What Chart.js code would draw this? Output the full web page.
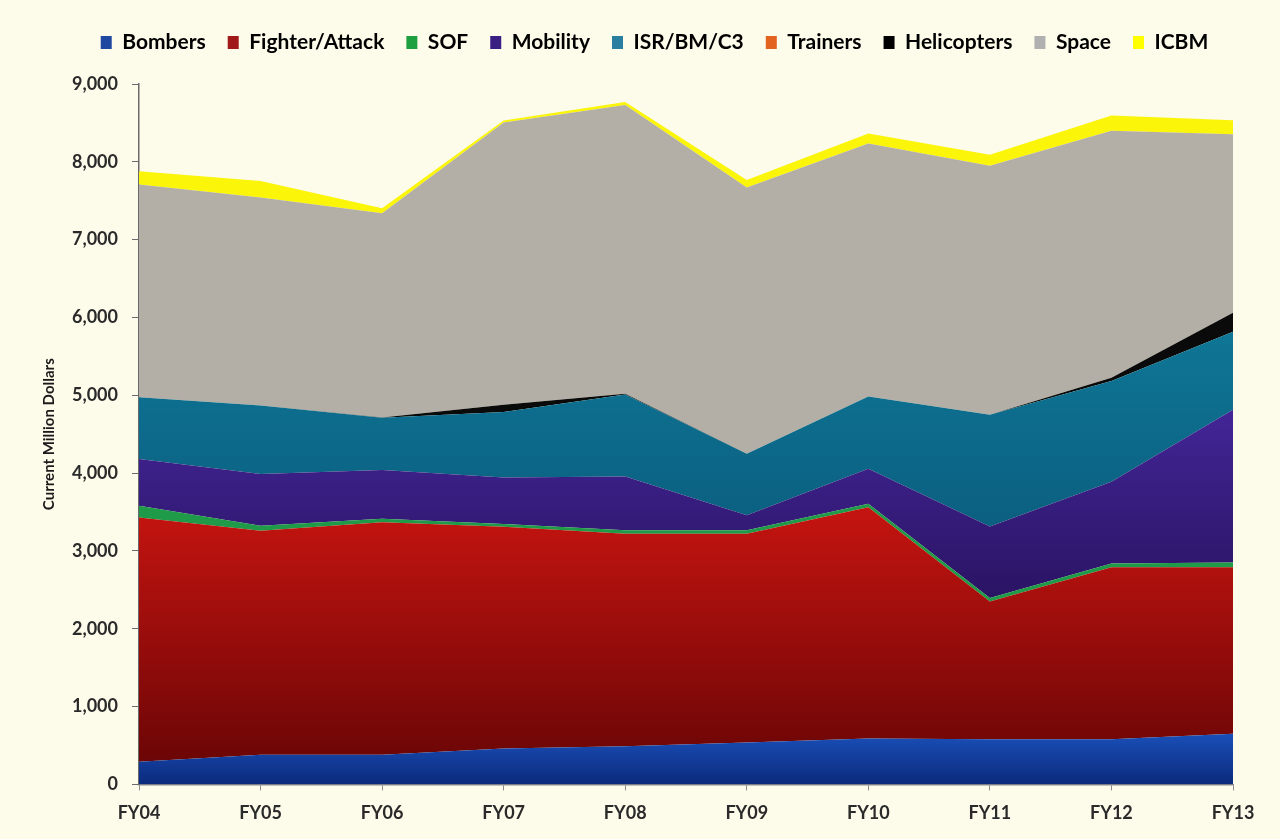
<!DOCTYPE html>
<html>
<head>
<meta charset="utf-8">
<script src="https://cdn.jsdelivr.net/npm/chart.js@4.4.1/dist/chart.umd.min.js"></script>
<style>
  html, body { margin: 0; padding: 0; background: #fdfbea; }
  #wrap { width: 1280px; height: 839px; }
</style>
</head>
<body>
<div id="wrap"><canvas id="budgetChart" width="1280" height="839"></canvas></div>
<script>
// procurement + RDT&E by mission area, current million dollars
const years = ["FY04", "FY05", "FY06", "FY07", "FY08", "FY09", "FY10", "FY11", "FY12", "FY13"];

const bombers     = [290, 380, 380, 460, 490, 540, 590, 580, 580, 650];
const fighter     = [3140, 2880, 2990, 2850, 2730, 2680, 2970, 1770, 2210, 2140];
const sof         = [150, 65, 45, 35, 45, 45, 45, 45, 50, 60];
const mobility    = [600, 665, 625, 600, 690, 195, 450, 920, 1050, 1965];
const isr         = [795, 880, 670, 840, 1055, 790, 930, 1435, 1295, 1000];
const trainers    = [0, 0, 0, 0, 0, 0, 0, 0, 0, 0];
const helicopters = [0, 0, 5, 95, 10, 0, 0, 0, 40, 245];
const space       = [2735, 2670, 2625, 3625, 3710, 3420, 3250, 3200, 3175, 2295];
const icbm        = [170, 215, 65, 25, 40, 95, 130, 140, 195, 180];

const yTicks = [0, 1000, 2000, 3000, 4000, 5000, 6000, 7000, 8000, 9000];

const FONT = "Lato, 'Open Sans', sans-serif";

// vertical gradient pinned to y-axis values so every band shades the same way
function shade(fromVal, toVal, topColor, bottomColor) {
  return (ctx) => {
    const chart = ctx.chart;
    if (!chart.chartArea) return topColor;
    const y = chart.scales.y;
    const g = chart.ctx.createLinearGradient(0, y.getPixelForValue(fromVal), 0, y.getPixelForValue(toVal));
    g.addColorStop(0, topColor);
    g.addColorStop(1, bottomColor);
    return g;
  };
}

const series = [
  { label: "Bombers", data: bombers, fill: shade(650, 0, "#1a4fb8", "#0b2a7c"), key: "#2048a0" },
  { label: "Fighter/Attack", data: fighter, fill: shade(3500, 300, "#c41410", "#6c0606"), key: "#a01818" },
  { label: "SOF", data: sof, fill: "#1f9a48", key: "#1fa040" },
  { label: "Mobility", data: mobility, fill: shade(4800, 2400, "#432596", "#2a1464"), key: "#3a2082" },
  { label: "ISR/BM/C3", data: isr, fill: shade(5800, 3300, "#0f7696", "#0b5f80"), key: "#2a7ea0" },
  { label: "Trainers", data: trainers, fill: "#e2621e", key: "#e2621e" },
  { label: "Helicopters", data: helicopters, fill: "#0a0a0a", key: "#000000" },
  { label: "Space", data: space, fill: "#b3afa7", key: "#b0b0b0" },
  { label: "ICBM", data: icbm, fill: "#fbf50a", key: "#ffff00" }
];

const paperBg = {
  id: "paperBg",
  beforeDraw(chart) {
    const c = chart.ctx;
    c.save();
    c.fillStyle = "#fdfbea";
    c.fillRect(0, 0, chart.width, chart.height);
    c.restore();
  }
};

// extra room under the legend, and nudge it right of the y-axis title block
const legendSpacing = {
  id: "legendSpacing",
  beforeInit(chart) {
    const fit = chart.legend.fit;
    chart.legend.fit = function () {
      fit.call(this);
      this.height += 21;
    };
  },
  afterLayout(chart) {
    chart.legend.left += 20;
    chart.legend.right += 20;
  }
};

new Chart(document.getElementById("budgetChart"), {
  type: "line",
  data: {
    labels: years,
    datasets: series.map((s, i) => ({
      label: s.label,
      data: s.data,
      backgroundColor: s.fill,
      borderColor: "rgba(0,0,0,0)",
      borderWidth: 0,
      pointRadius: 0,
      tension: 0,
      fill: i === 0 ? "origin" : "-1",
      legendColor: s.key
    }))
  },
  options: {
    responsive: false,
    animation: false,
    devicePixelRatio: 1,
    layout: { padding: { top: 10, right: 47, bottom: 3, left: 36 } },
    plugins: {
      tooltip: { enabled: false },
      legend: {
        position: "top",
        labels: {
          boxWidth: 11,
          boxHeight: 13,
          padding: 22,
          color: "#1a1a1a",
          font: { family: FONT, size: 21, weight: "bold" },
          generateLabels(chart) {
            return chart.data.datasets.map((ds, i) => ({
              text: ds.label,
              fillStyle: ds.legendColor,
              strokeStyle: ds.legendColor,
              lineWidth: 0,
              hidden: false,
              datasetIndex: i
            }));
          }
        }
      }
    },
    scales: {
      x: {
        type: "category",
        offset: false,
        grid: { drawOnChartArea: false, drawTicks: true, tickLength: 6, color: "#8a8a8a" },
        border: { color: "#8a8a8a", width: 1.5 },
        ticks: {
          color: "#2a2a2a",
          padding: 12,
          maxRotation: 0,
          font: { family: FONT, size: 18, weight: "bold" }
        }
      },
      y: {
        stacked: true,
        min: 0,
        max: 9000,
        afterBuildTicks(scale) {
          scale.ticks = yTicks.map(v => ({ value: v }));
        },
        afterFit(scale) { scale.width = 103; },
        grid: { drawOnChartArea: false, drawTicks: true, tickLength: 7, color: "#6a6a6a" },
        border: { color: "#6a6a6a", width: 1.5 },
        title: {
          display: true,
          text: "Current Million Dollars",
          color: "#1a1a1a",
          padding: { top: 4, bottom: 0 },
          font: { family: FONT, size: 15, weight: "bold" }
        },
        ticks: {
          color: "#2a2a2a",
          padding: 14,
          font: { family: FONT, size: 18, weight: "bold" },
          callback: (v) => v.toLocaleString("en-US")
        }
      }
    }
  },
  plugins: [paperBg, legendSpacing]
});
</script>
</body>
</html>
